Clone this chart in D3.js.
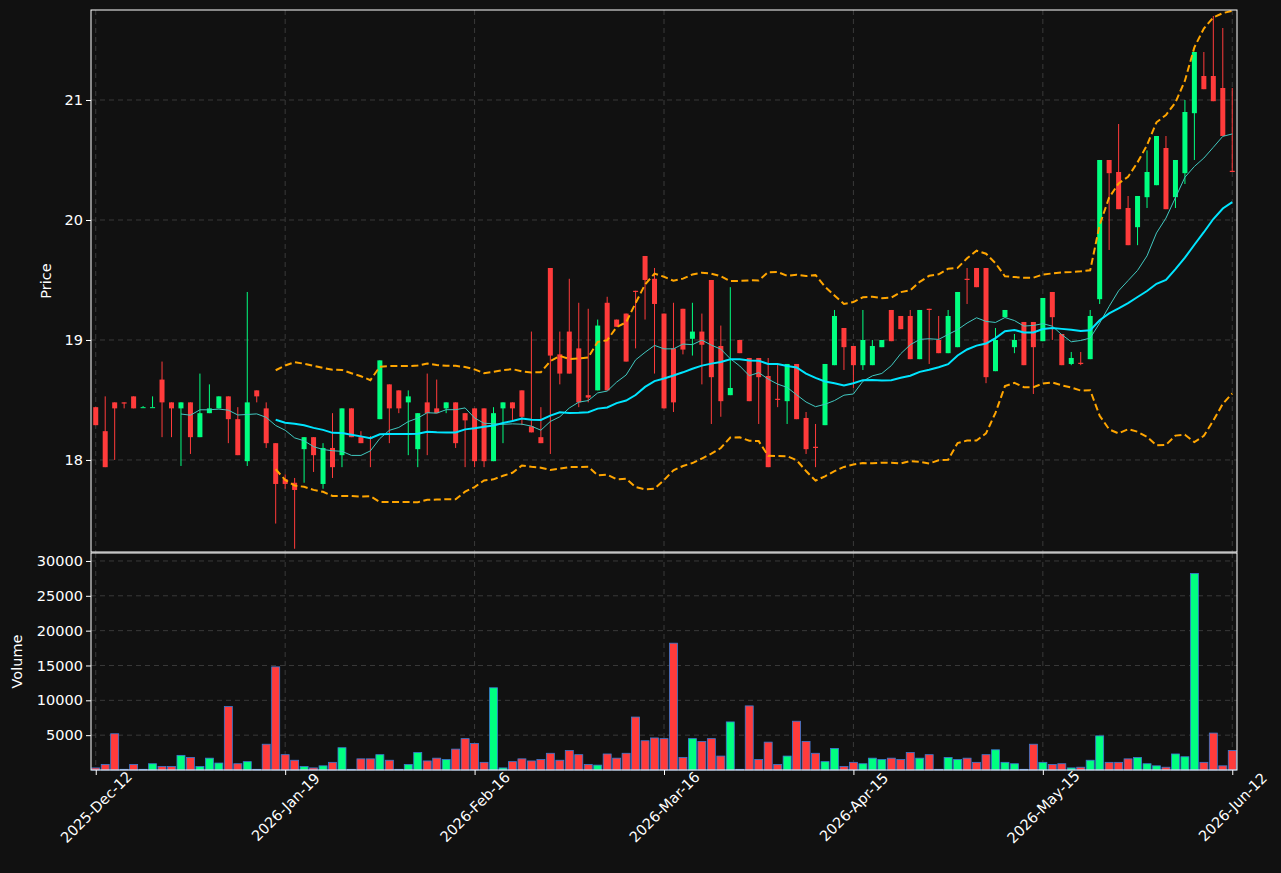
<!DOCTYPE html>
<html><head><meta charset="utf-8">
<script src="https://cdn.jsdelivr.net/npm/d3@7"></script>
<style>body{margin:0;background:#111111;}svg{display:block;font-family:"DejaVu Sans",sans-serif;}</style>
</head><body><svg id="c" width="1281" height="873"></svg>
<script>
const opens  = [18.44,18.24,18.48,18.48,18.53,18.44,18.44,18.67,18.48,18.43,18.48,18.19,18.39,18.43,18.53,18.34,17.99,18.58,18.43,18.14,17.84,17.81,18.09,18.19,17.80,18.10,18.04,18.43,18.19,18.19,18.34,18.63,18.58,18.48,18.09,18.48,18.43,18.43,18.48,18.39,18.43,18.43,17.99,18.43,18.48,18.58,18.28,18.19,19.60,18.88,19.07,18.93,18.54,18.58,19.31,19.17,19.22,19.41,19.70,19.51,19.22,18.93,19.26,19.01,19.07,19.50,18.95,18.54,19.00,18.85,18.85,18.70,18.51,18.49,18.80,18.35,18.11,18.29,18.79,19.10,18.95,18.79,18.79,18.94,19.25,19.20,19.20,18.84,19.26,19.00,18.89,18.94,19.51,19.60,19.60,18.74,19.19,18.94,19.15,19.15,18.99,19.40,19.05,18.80,18.81,18.84,19.34,20.50,20.40,20.10,19.94,20.19,20.29,20.60,20.19,20.39,20.89,21.20,21.20,21.10,20.41];
const highs  = [18.44,18.53,18.48,18.48,18.53,18.45,18.53,18.82,18.48,18.48,18.48,18.72,18.63,18.53,18.53,18.44,19.40,18.58,18.48,18.14,17.88,17.85,18.19,18.19,18.14,18.39,18.43,18.43,18.24,18.20,18.83,18.63,18.58,18.58,18.39,18.72,18.67,18.48,18.48,18.39,18.43,18.43,18.44,18.48,18.48,18.58,19.07,18.44,19.60,19.07,19.51,19.31,19.26,19.17,19.36,19.17,19.22,19.41,19.70,19.60,19.22,19.31,19.26,19.31,19.22,19.50,19.12,19.44,19.00,18.85,18.85,18.85,18.80,18.80,18.80,18.40,18.30,18.80,19.25,19.10,18.95,19.25,19.00,19.00,19.25,19.20,19.25,19.25,19.26,19.20,19.25,19.40,19.60,19.60,19.60,19.10,19.25,19.05,19.15,19.15,19.35,19.40,19.05,18.90,18.90,19.25,20.50,20.50,20.80,20.20,20.20,20.58,20.70,20.70,20.50,21.00,21.40,21.40,21.70,21.60,21.10];
const lows   = [18.29,17.94,18.00,18.43,18.43,18.44,18.44,18.19,18.19,17.95,18.05,18.19,18.39,18.43,18.14,18.04,17.95,18.48,18.10,17.47,17.76,17.26,17.81,17.90,17.76,17.85,17.94,18.19,18.14,17.94,18.34,18.14,18.39,18.04,17.94,18.04,18.39,18.39,18.10,17.94,17.94,17.94,17.99,18.14,18.33,18.29,18.23,18.14,18.05,18.63,18.72,18.44,18.48,18.58,18.58,19.11,18.82,18.93,19.17,18.72,18.43,18.40,18.88,18.87,18.63,18.30,18.36,18.54,18.89,18.49,18.30,17.94,18.44,18.30,18.34,18.05,17.94,18.29,18.79,18.75,18.60,18.75,18.79,18.94,18.99,19.09,18.84,18.84,18.80,18.89,18.89,18.94,19.30,19.44,18.64,18.74,19.19,18.89,18.79,18.55,18.99,19.00,18.79,18.79,18.79,18.84,19.30,19.75,20.09,19.79,19.79,20.10,20.29,20.09,20.10,20.30,20.50,21.09,20.99,20.70,20.40];
const closes = [18.29,17.94,18.43,18.47,18.43,18.44,18.44,18.48,18.43,18.48,18.19,18.39,18.43,18.53,18.34,18.04,18.48,18.53,18.14,17.80,17.80,17.75,18.19,18.04,18.10,17.94,18.43,18.19,18.14,18.18,18.83,18.43,18.43,18.53,18.39,18.39,18.39,18.48,18.14,18.33,17.99,17.99,18.39,18.48,18.43,18.36,18.23,18.14,18.87,18.72,18.72,18.48,18.52,19.12,18.58,19.11,18.82,19.40,19.50,19.30,18.43,18.48,18.92,19.07,18.96,18.69,18.49,18.60,18.89,18.49,18.69,17.94,18.50,18.80,18.34,18.09,18.10,18.80,19.20,18.94,18.79,19.00,18.95,19.00,18.99,19.09,18.84,19.25,19.25,18.89,19.20,19.40,19.50,19.44,18.69,19.00,19.25,19.00,18.79,18.94,19.35,19.19,18.79,18.85,18.80,19.20,20.50,20.39,20.09,19.79,20.20,20.40,20.70,20.09,20.50,20.90,21.40,21.09,20.99,20.70,20.40];
const volumes = [300,800,5200,100,800,100,900,500,500,2100,1800,500,1700,1000,9100,900,1200,100,3700,14800,2200,1400,500,300,600,1100,3200,100,1600,1600,2200,1400,100,800,2500,1300,1700,1500,3000,4500,3800,1100,11800,300,1200,1600,1300,1500,2400,1400,2800,2200,800,700,2300,1700,2400,7600,4200,4600,4500,18200,1800,4500,4100,4500,2000,6900,100,9200,1500,4000,800,2000,7000,4100,2400,1200,3100,500,1100,900,1700,1500,1700,1500,2500,1700,2200,100,1800,1500,1700,1100,2200,2900,1100,900,100,3700,1100,800,900,300,400,1400,4900,1100,1100,1600,1800,900,600,400,2300,1900,28200,1100,5300,600,2800];
const tickIdx = [0,20,40,60,80,100,120];
const tickLabels = ["2025-Dec-12","2026-Jan-19","2026-Feb-16","2026-Mar-16","2026-Apr-15","2026-May-15","2026-Jun-12"];
const priceTicks = [18,19,20,21];
const volTicks = [5000,10000,15000,20000,25000,30000];

const svg = d3.select("#c");
const L=91,R=1237,PT=10,PB=552,VT=553,VB=770;
const n = closes.length;
const x = d3.scaleLinear().domain([-0.5,120.5]).range([L,R]);
const yP = d3.scaleLinear().domain([17.233,21.75]).range([PB,PT]);
const yV = d3.scaleLinear().domain([0,31143]).range([VB,VT]);
const up="#00ff80", dn="#ff3b3b";

function sma(p,i){ if(i<p-1) return null; let s=0; for(let k=i-p+1;k<=i;k++) s+=closes[k]; return s/p; }
function sd(p,i){ const m=sma(p,i); let s=0; for(let k=i-p+1;k<=i;k++) s+=(closes[k]-m)**2; return Math.sqrt(s/(p-1)); }
const idx = d3.range(n);
const ma10 = idx.map(i=>sma(10,i)), ma20 = idx.map(i=>sma(20,i));
const bu = idx.map(i=>i<19?null:ma20[i]+2*sd(20,i)), bl = idx.map(i=>i<19?null:ma20[i]-2*sd(20,i));

function grid(g, scale, ticks){
  g.selectAll(null).data(ticks).join("line").attr("x1",L).attr("x2",R)
   .attr("y1",d=>scale(d)).attr("y2",d=>scale(d)).attr("stroke","#3a3a3a").attr("stroke-dasharray","5,4");
}
function vgrid(g,t,b){
  g.selectAll(null).data(tickIdx).join("line").attr("y1",t).attr("y2",b)
   .attr("x1",d=>x(d)).attr("x2",d=>x(d)).attr("stroke","#3a3a3a").attr("stroke-dasharray","5,4");
}
const gp = svg.append("g"); grid(gp,yP,priceTicks); vgrid(gp,PT,PB);
const gv = svg.append("g"); grid(gv,yV,volTicks); vgrid(gv,VT,VB);

const cw = 5;
const cg = svg.append("g");
idx.forEach(i=>{
  const c = closes[i]>=opens[i]?up:dn;
  cg.append("line").attr("x1",x(i)).attr("x2",x(i)).attr("y1",yP(highs[i])).attr("y2",yP(lows[i])).attr("stroke",c).attr("stroke-width",1);
  const t=yP(Math.max(opens[i],closes[i])), b=yP(Math.min(opens[i],closes[i]));
  cg.append("rect").attr("x",x(i)-cw/2).attr("width",cw).attr("y",t).attr("height",Math.max(1,b-t)).attr("fill",c);
});
const line = d3.line().defined(d=>d[1]!=null).x(d=>x(d[0])).y(d=>yP(d[1]));
[bu,bl].forEach(arr=>svg.append("path").attr("d",line(idx.map(i=>[i,arr[i]]))).attr("fill","none").attr("stroke","orange").attr("stroke-width",2).attr("stroke-dasharray","7,3.5"));
svg.append("path").attr("d",line(idx.map(i=>[i,ma10[i]]))).attr("fill","none").attr("stroke","#40c8c0").attr("stroke-width",1);
svg.append("path").attr("d",line(idx.map(i=>[i,ma20[i]]))).attr("fill","none").attr("stroke","#00e5ff").attr("stroke-width",2);

const vg = svg.append("g");
idx.forEach(i=>{
  const c = closes[i]>=opens[i]?up:dn;
  vg.append("rect").attr("x",x(i)-4).attr("width",8).attr("y",yV(volumes[i])).attr("height",VB-yV(volumes[i]))
    .attr("fill",c).attr("stroke","#3a7bd5").attr("stroke-width",0.8);
});

svg.append("rect").attr("x",L).attr("y",PT).attr("width",R-L).attr("height",PB-PT).attr("fill","none").attr("stroke","#fff");
svg.append("rect").attr("x",L).attr("y",VT).attr("width",R-L).attr("height",VB-VT).attr("fill","none").attr("stroke","#fff");

const ya = svg.append("g").attr("transform",`translate(${L},0)`).call(d3.axisLeft(yP).tickValues(priceTicks).tickFormat(d3.format("d")).tickSize(5));
const va = svg.append("g").attr("transform",`translate(${L},0)`).call(d3.axisLeft(yV).tickValues(volTicks).tickFormat(d3.format("d")).tickSize(5));
const xa = svg.append("g").attr("transform",`translate(0,${VB})`).call(d3.axisBottom(x).tickValues(tickIdx).tickFormat((d,i)=>tickLabels[i]).tickSize(5));
[ya,va,xa].forEach(a=>{a.select(".domain").remove(); a.selectAll("line").attr("stroke","#fff"); a.selectAll("text").attr("fill","#fff").attr("font-size",14.5).attr("font-family","DejaVu Sans");});
xa.selectAll("text").attr("text-anchor","middle").attr("y",0).attr("dy","0.35em").attr("transform","translate(0,37) rotate(-45)");
svg.append("text").attr("transform",`translate(51,${(PT+PB)/2}) rotate(-90)`).attr("text-anchor","middle").attr("fill","#fff").attr("font-size",14.5).text("Price");
svg.append("text").attr("transform",`translate(22,${(VT+VB)/2}) rotate(-90)`).attr("text-anchor","middle").attr("fill","#fff").attr("font-size",14.5).text("Volume");
</script></body></html>
